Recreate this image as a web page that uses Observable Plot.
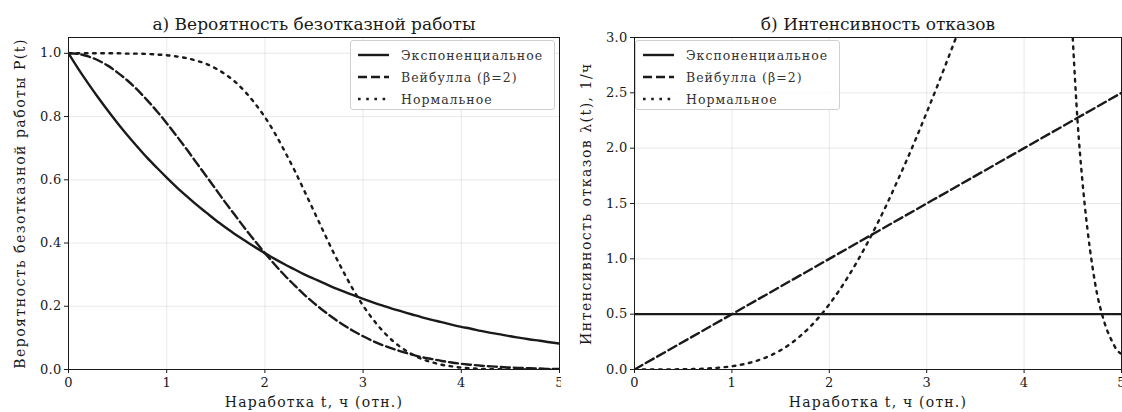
<!DOCTYPE html>
<html>
<head>
<meta charset="utf-8">
<script src="https://cdn.jsdelivr.net/npm/d3@7"></script>
<script src="https://cdn.jsdelivr.net/npm/@observablehq/plot@0.6"></script>
<style>
  body { margin: 0; background: #fff; }
  #wrap { position: relative; width: 1122px; height: 412px; overflow: hidden; font-family: "DejaVu Serif", serif; }
  .panel { position: absolute; top: 0; }
  .panel svg { overflow: visible; }
  g[aria-label="title"] text { letter-spacing: 1.2px; }
  g[aria-label="x-axis label"] text { letter-spacing: 1.2px; }
  g[aria-label="y-axis label"] text { letter-spacing: 1.5px; }
  g[aria-label="x-axis tick label"] text, g[aria-label="y-axis tick label"] text { letter-spacing: 0.3px; }
  .legend { position: absolute; top: 40px; height: 68px; border: 1px solid #d0d0d0; border-radius: 3px; background: rgba(255,255,255,0.85); font-family: "DejaVu Serif", serif; font-size: 12.5px; letter-spacing: 1px; color: #333; }
  .legend .row { position: absolute; left: 0; height: 20px; display: flex; align-items: center; }
  .legend svg { margin-left: 7px; margin-right: 12px; }
</style>
</head>
<body>
<div id="wrap"></div>
<script>
// ---- data ----
const tGrid = [0,0.1,0.2,0.3,0.4,0.5,0.6,0.7,0.8,0.9,1.0,1.1,1.2,1.3,1.4,1.5,1.6,1.7,1.8,1.9,2.0,2.1,2.2,2.3,2.4,2.5,2.6,2.7,2.8,2.9,3.0,3.1,3.2,3.3,3.4,3.5,3.6,3.7,3.8,3.9,4.0,4.1,4.2,4.3,4.4,4.5,4.6,4.7,4.8,4.9,5.0];
const pExp = [1.000,0.951,0.905,0.861,0.819,0.779,0.741,0.705,0.670,0.638,0.607,0.577,0.549,0.522,0.497,0.472,0.449,0.427,0.407,0.387,0.368,0.350,0.333,0.317,0.301,0.287,0.273,0.259,0.247,0.235,0.223,0.212,0.202,0.192,0.183,0.174,0.165,0.157,0.150,0.142,0.135,0.129,0.122,0.116,0.111,0.105,0.100,0.095,0.091,0.086,0.082];
const pWeib = [1.000,0.998,0.990,0.978,0.961,0.939,0.914,0.885,0.852,0.817,0.779,0.739,0.698,0.655,0.613,0.570,0.527,0.486,0.445,0.406,0.368,0.332,0.298,0.267,0.237,0.210,0.185,0.162,0.141,0.122,0.105,0.090,0.077,0.066,0.056,0.047,0.039,0.033,0.027,0.022,0.018,0.015,0.012,0.010,0.008,0.006,0.005,0.004,0.003,0.002,0.002];
const pNorm = [1.000,1.000,1.000,1.000,1.000,1.000,0.999,0.999,0.998,0.996,0.994,0.990,0.985,0.977,0.967,0.952,0.933,0.909,0.878,0.841,0.798,0.748,0.691,0.631,0.566,0.500,0.434,0.369,0.309,0.252,0.202,0.159,0.122,0.091,0.067,0.048,0.033,0.023,0.015,0.010,0.006,0.004,0.002,0.001,0.001,0.000,0.000,0.000,0.000,0.000,0.000];

const tLin = [0,1,2,3,4,5];
const hExp = [0.5,0.5,0.5,0.5,0.5,0.5];
const hWeib = [0,0.5,1.0,1.5,2.0,2.5];
const tHazN = [0,0.1,0.2,0.3,0.4,0.5,0.6,0.7,0.8,0.9,1.0,1.1,1.2,1.3,1.4,1.5,1.6,1.7,1.8,1.9,2.0,2.1,2.2,2.3,2.4,2.5,2.6,2.7,2.8,2.9,3.0,3.1,3.2,3.3,3.4,3.5,3.6,3.7,3.8,3.9,4.0,4.1,4.2,4.3,4.35,4.4,4.45,4.5,4.55,4.6,4.65,4.7,4.75,4.8,4.85,4.9,4.95,5.0];
const hNorm = [0.000,0.000,0.000,0.001,0.001,0.003,0.004,0.007,0.012,0.019,0.029,0.044,0.065,0.092,0.128,0.174,0.231,0.301,0.383,0.479,0.589,0.712,0.849,0.997,1.158,1.330,1.511,1.705,1.902,2.108,2.323,2.541,2.767,2.997,3.232,3.466,3.713,3.956,4.204,4.452,4.705,4.948,5.21,5.47,5.60,5.08,3.93,2.99,2.23,1.69,1.27,0.94,0.68,0.50,0.36,0.26,0.18,0.14];

const seriesNames = ["Экспоненциальное", "Вейбулла (β=2)", "Нормальное"];
const titles = ["а) Вероятность безотказной работы", "б) Интенсивность отказов"];
const xLabel = "Наработка t, ч (отн.)";
const yLabels = ["Вероятность безотказной работы P(t)", "Интенсивность отказов λ(t), 1/ч"];
const xTicks = [0,1,2,3,4,5];
const yTicksP = [0,0.2,0.4,0.6,0.8,1.0];
const yTicksH = [0,0.5,1.0,1.5,2.0,2.5,3.0];

// ---- styles ----
const styles = [
  {strokeDasharray: null},
  {strokeDasharray: "9,4"},
  {strokeDasharray: "2.6,5.6"}
];
const INK = "#1a1a1a";
const FONT = "DejaVu Serif";
const LW = 2.4;

function rows(ts, ys) { return ts.map((t, i) => ({t, v: ys[i]})); }

function panel({title, yLabel, yDomain, yTicks, series, marginLeft, marginRight, labelOffsetY}) {
  return Plot.plot({
    width: 561, height: 412,
    marginTop: 37, marginBottom: 43, marginLeft, marginRight,
    style: {fontFamily: FONT, fontSize: "13px", color: INK, background: "white"},
    x: {domain: [0, 5]},
    y: {domain: yDomain},
    marks: [
      Plot.gridX(xTicks, {stroke: "#b0b0b0", strokeOpacity: 0.35, strokeWidth: 0.8}),
      Plot.gridY(yTicks, {stroke: "#b0b0b0", strokeOpacity: 0.35, strokeWidth: 0.8}),
      ...series.map((s, i) => Plot.line(s, {x: "t", y: "v", stroke: INK, strokeWidth: LW, clip: true,
        curve: "monotone-x", strokeDasharray: styles[i].strokeDasharray})),
      Plot.axisX(xTicks, {tickSize: 4, tickPadding: 4, fontSize: 13, tickFormat: d3.format("d"),
        label: xLabel, labelAnchor: "center", labelArrow: "none", labelOffset: 37}),
      Plot.axisY(yTicks, {tickSize: 4, tickPadding: 3, fontSize: 13, tickFormat: d3.format(".1f"),
        label: yLabel, labelAnchor: "center", labelArrow: "none", labelOffset: labelOffsetY}),
      Plot.frame({stroke: INK, strokeWidth: 1}),
      Plot.text([title], {frameAnchor: "top", dy: -8, lineAnchor: "bottom", fontSize: 17, fill: INK, ariaLabel: "title"})
    ]
  });
}
// bump axis-label font size after render
function restyle(svg) {
  svg.querySelectorAll('g[aria-label="x-axis label"] text, g[aria-label="y-axis label"] text')
    .forEach(t => t.setAttribute("font-size", 14));
}

const wrap = document.getElementById("wrap");

const left = panel({
  title: titles[0], yLabel: yLabels[0], yDomain: [0, 1.05], yTicks: yTicksP,
  series: [rows(tGrid, pExp), rows(tGrid, pWeib), rows(tGrid, pNorm)],
  marginLeft: 68, marginRight: 2, labelOffsetY: 53
});
const right = panel({
  title: titles[1], yLabel: yLabels[1], yDomain: [0, 3], yTicks: yTicksH,
  series: [rows(tLin, hExp), rows(tLin, hWeib), rows(tHazN, hNorm)],
  marginLeft: 73, marginRight: 1, labelOffsetY: 53
});
restyle(left); restyle(right);

function place(el, x) {
  const d = document.createElement("div");
  d.className = "panel"; d.style.left = x + "px";
  d.appendChild(el); wrap.appendChild(d);
}
place(left, 0);
place(right, 561);

function legend(x, w) {
  const box = document.createElement("div");
  box.className = "legend";
  box.style.left = x + "px"; box.style.width = w + "px";
  seriesNames.forEach((name, i) => {
    const r = document.createElement("div");
    r.className = "row"; r.style.top = (4 + i * 22) + "px";
    const ns = "http://www.w3.org/2000/svg";
    const svg = document.createElementNS(ns, "svg");
    svg.setAttribute("width", 31); svg.setAttribute("height", 8);
    const ln = document.createElementNS(ns, "line");
    ln.setAttribute("x1", 0); ln.setAttribute("x2", 31); ln.setAttribute("y1", 4); ln.setAttribute("y2", 4);
    ln.setAttribute("stroke", INK); ln.setAttribute("stroke-width", LW);
    if (styles[i].strokeDasharray) ln.setAttribute("stroke-dasharray", styles[i].strokeDasharray);
    svg.appendChild(ln);
    const sp = document.createElement("span"); sp.textContent = name;
    r.appendChild(svg); r.appendChild(sp);
    box.appendChild(r);
  });
  wrap.appendChild(box);
}
legend(350, 203);
legend(635, 203);
</script>
</body>
</html>
